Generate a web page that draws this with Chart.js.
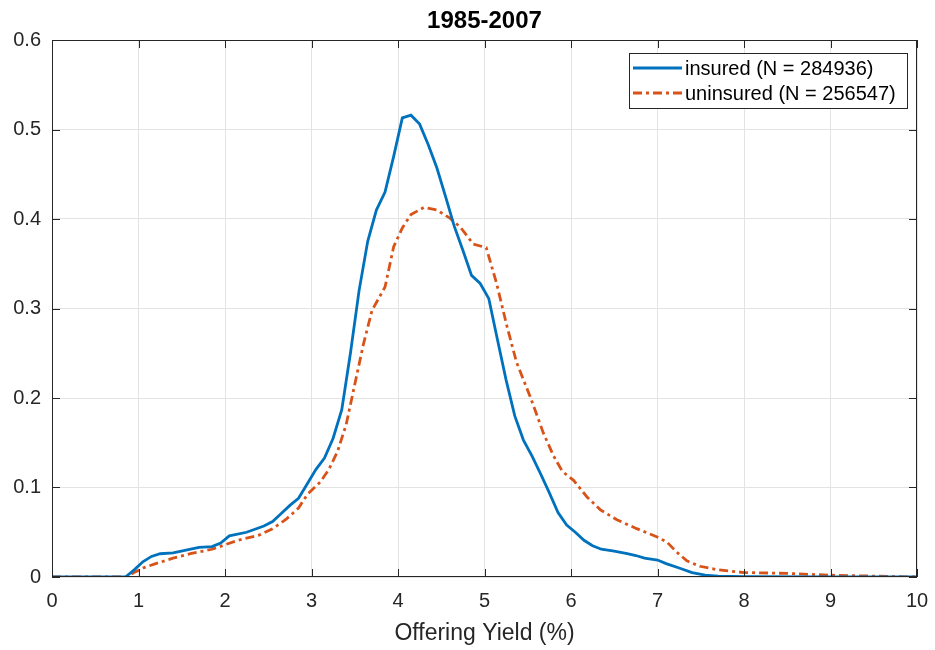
<!DOCTYPE html>
<html>
<head>
<meta charset="utf-8">
<script src="https://cdn.jsdelivr.net/npm/chart.js@4/dist/chart.umd.min.js"></script>
<style>
  html, body { margin: 0; padding: 0; background: #fff; }
  #wrap { width: 935px; height: 650px; }
</style>
</head>
<body>
<div id="wrap"><canvas id="yieldChart"></canvas></div>
<script>
// insured series (offering yield %, density)
const insuredX = [0, 0.85, 0.95, 1.05, 1.15, 1.25, 1.4, 1.55, 1.7, 1.85, 1.95, 2.05, 2.25, 2.45, 2.55, 2.65, 2.75, 2.85,
  2.95, 3.05, 3.15, 3.25, 3.35, 3.45, 3.55, 3.65, 3.75, 3.85, 3.95, 4.05, 4.15, 4.25, 4.35, 4.45, 4.55, 4.65, 4.75,
  4.85, 4.95, 5.05, 5.15, 5.25, 5.35, 5.45, 5.55, 5.65, 5.75, 5.85, 5.95, 6.05, 6.15, 6.25, 6.35, 6.5, 6.65, 6.75,
  6.85, 7.0, 7.1, 7.25, 7.4, 7.55, 7.7, 8, 9, 10];
const insuredY = [0, 0, 0.008, 0.017, 0.023, 0.026, 0.027, 0.030, 0.033, 0.034, 0.038, 0.046, 0.050, 0.057, 0.062, 0.071, 0.080, 0.088,
  0.104, 0.120, 0.133, 0.155, 0.187, 0.25, 0.32, 0.375, 0.41, 0.43, 0.47, 0.513, 0.516, 0.506, 0.483, 0.457, 0.425, 0.392, 0.365,
  0.337, 0.328, 0.311, 0.265, 0.22, 0.18, 0.153, 0.135, 0.115, 0.094, 0.072, 0.058, 0.050, 0.041, 0.035, 0.031, 0.029, 0.026, 0.024,
  0.021, 0.019, 0.015, 0.010, 0.005, 0.002, 0.001, 0.0005, 0, 0];

// uninsured series
const uninsuredX = [0, 0.85, 0.95, 1.05, 1.2, 1.4, 1.6, 1.85, 2.0, 2.15, 2.4, 2.55, 2.7, 2.85, 2.95, 3.1, 3.2, 3.3, 3.4,
  3.5, 3.6, 3.7, 3.85, 3.95, 4.05, 4.15, 4.3, 4.45, 4.6, 4.72, 4.87, 5.02, 5.14, 5.26, 5.37, 5.53, 5.68, 5.8, 5.9,
  6.03, 6.18, 6.34, 6.53, 6.76, 6.99, 7.11, 7.22, 7.34, 7.49, 7.7, 8, 8.5, 9, 9.5, 10];
const uninsuredY = [0, 0, 0.005, 0.010, 0.015, 0.021, 0.026, 0.031, 0.036, 0.041, 0.047, 0.054, 0.064, 0.077, 0.092, 0.106, 0.120, 0.140, 0.170,
  0.215, 0.26, 0.298, 0.324, 0.369, 0.390, 0.405, 0.413, 0.410, 0.401, 0.391, 0.372, 0.368, 0.328, 0.280, 0.240, 0.201, 0.161, 0.135, 0.118,
  0.108, 0.090, 0.075, 0.064, 0.054, 0.045, 0.039, 0.028, 0.018, 0.012, 0.008, 0.005, 0.004, 0.002, 0.001, 0];

const chartTitle = '1985-2007';
const seriesLabels = ['insured (N = 284936)', 'uninsured (N = 256547)'];
const xTicks = [0, 1, 2, 3, 4, 5, 6, 7, 8, 9, 10];
const yTicks = [0, 0.1, 0.2, 0.3, 0.4, 0.5, 0.6];

const toPoints = (xs, ys) => xs.map((x, i) => ({ x: x, y: ys[i] }));
const FONT = '"Liberation Sans", Arial, Helvetica, sans-serif';

// MATLAB-like box, inward ticks, title over the axes and legend
const boxPlugin = {
  id: 'matlabBox',
  afterDraw(chart) {
    const { ctx, chartArea: a, scales } = chart;
    ctx.save();
    ctx.strokeStyle = '#262626';
    ctx.lineWidth = 1;
    ctx.strokeRect(a.left + 0.5, a.top + 0.5, a.right - a.left - 1, a.bottom - a.top - 1);
    const len = 8;
    ctx.beginPath();
    xTicks.forEach(v => {
      const px = Math.round(scales.x.getPixelForValue(v)) + 0.5;
      ctx.moveTo(px, a.bottom); ctx.lineTo(px, a.bottom - len);
      ctx.moveTo(px, a.top); ctx.lineTo(px, a.top + len);
    });
    yTicks.forEach(v => {
      const py = Math.round(scales.y.getPixelForValue(v)) + 0.5;
      ctx.moveTo(a.left, py); ctx.lineTo(a.left + len, py);
      ctx.moveTo(a.right, py); ctx.lineTo(a.right - len, py);
    });
    ctx.stroke();

    // title
    ctx.fillStyle = '#000';
    ctx.font = 'bold 24px ' + FONT;
    ctx.textAlign = 'center';
    ctx.textBaseline = 'middle';
    ctx.fillText(chartTitle, (a.left + a.right) / 2, 21);

    // legend
    const lx = 629, ly = 53, lw = 278, lh = 55;
    ctx.fillStyle = '#fff';
    ctx.fillRect(lx, ly, lw, lh);
    ctx.strokeStyle = '#262626';
    ctx.strokeRect(lx + 0.5, ly + 0.5, lw, lh);
    ctx.font = '20px ' + FONT;
    ctx.textAlign = 'left';
    chart.data.datasets.forEach((ds, i) => {
      const y = ly + 15 + i * 25;
      ctx.strokeStyle = ds.borderColor;
      ctx.lineWidth = 2.8;
      ctx.setLineDash(ds.borderDash || []);
      ctx.beginPath();
      ctx.moveTo(lx + 4, y); ctx.lineTo(lx + 53, y);
      ctx.stroke();
      ctx.setLineDash([]);
      ctx.fillStyle = '#000';
      ctx.fillText(ds.label, lx + 56, y + 1);
    });
    ctx.restore();
  }
};

new Chart(document.getElementById('yieldChart'), {
  type: 'line',
  data: {
    datasets: [
      {
        label: seriesLabels[0],
        data: toPoints(insuredX, insuredY),
        borderColor: '#0072BD',
        borderWidth: 2.8,
        pointRadius: 0,
        tension: 0,
        fill: false
      },
      {
        label: seriesLabels[1],
        data: toPoints(uninsuredX, uninsuredY),
        borderColor: '#D95319',
        borderWidth: 2.8,
        borderDash: [9, 4, 3, 4],
        pointRadius: 0,
        tension: 0,
        fill: false
      }
    ]
  },
  options: {
    responsive: true,
    maintainAspectRatio: false,
    animation: false,
    layout: { padding: { left: 0, right: 18, top: 40, bottom: 0 } },
    plugins: {
      legend: { display: false },
      tooltip: { enabled: false },
      title: { display: false }
    },
    scales: {
      x: {
        type: 'linear',
        min: 0,
        max: 10,
        afterBuildTicks: s => { s.ticks = xTicks.map(v => ({ value: v })); },
        afterFit: s => { s.height = 73; s.paddingLeft = 0; s.paddingRight = 0; },
        grid: { color: '#e3e3e3', drawTicks: false },
        border: { display: false },
        ticks: { color: '#262626', padding: 12, font: { family: FONT, size: 20 } },
        title: {
          display: true,
          text: 'Offering Yield (%)',
          color: '#262626',
          font: { family: FONT, size: 23 },
          padding: { top: 2, bottom: 3 }
        }
      },
      y: {
        min: 0,
        max: 0.6,
        afterBuildTicks: s => { s.ticks = yTicks.map(v => ({ value: v })); },
        afterFit: s => { s.width = 52; s.paddingTop = 0; s.paddingBottom = 0; },
        grid: { color: '#e3e3e3', drawTicks: false },
        border: { display: false },
        ticks: {
          color: '#262626',
          padding: 11,
          font: { family: FONT, size: 20 },
          callback: v => String(Math.round(v * 10) / 10)
        }
      }
    }
  },
  plugins: [boxPlugin]
});
</script>
</body>
</html>
